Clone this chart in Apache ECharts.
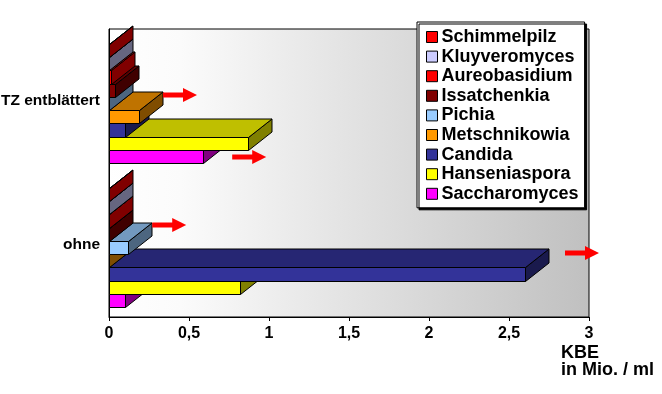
<!DOCTYPE html>
<html><head><meta charset="utf-8">
<script src="https://cdn.jsdelivr.net/npm/echarts@6/dist/echarts.min.js"></script>
<style>html,body{margin:0;padding:0;background:#fff}#c{width:662px;height:394px}</style>
</head><body><div id="c"></div>
<script>
// ---- data ----
var categories = ['ohne', 'TZ entblättert'];
var seriesNames = ['Saccharomyces','Hanseniaspora','Candida','Metschnikowia','Pichia','Issatchenkia','Aureobasidium','Kluyveromyces','Schimmelpilz'];
var saccharomyces = [0.10, 0.59];
var hanseniaspora = [0.82, 0.87];
var candida       = [2.60, 0.10];
var metschnikowia = [0.00, 0.19];
var pichia        = [0.12, 0.00];
var issatchenkia  = [0.00, 0.04];
var aureobasidium = [0.00, 0.01];
var kluyveromyces = [0.00, 0.00];
var schimmelpilz  = [0.00, 0.00];
var xTickLabels = ['0','0,5','1','1,5','2','2,5','3'];
var legendOrder = ['Schimmelpilz','Kluyveromyces','Aureobasidium','Issatchenkia','Pichia','Metschnikowia','Candida','Hanseniaspora','Saccharomyces'];
var seriesValues = [saccharomyces, hanseniaspora, candida, metschnikowia, pichia, issatchenkia, aureobasidium, kluyveromyces, schimmelpilz];
// arrow annotations: tail value on x axis, category index
var arrowValues = [0.3375, 0.77, 0.27, 2.85];
var arrowCats = [1, 1, 0, 0];

// ---- style ----
var colors = ['#FF00FF','#FFFF00','#333399','#FF9900','#99CCFF','#800000','#FF0000','#CCCCFF','#FF0000'];
var arrowDY = [-6, 56, -20, 8];
var DX = 23.5, DY = 18.5;
var FONT = '"Liberation Sans", Arial, sans-serif';

function shade(hex, f) {
  var r = parseInt(hex.substr(1,2),16), g = parseInt(hex.substr(3,2),16), b = parseInt(hex.substr(5,2),16);
  return 'rgb(' + Math.round(r*f) + ',' + Math.round(g*f) + ',' + Math.round(b*f) + ')';
}

function makeRender(sIdx, color) {
  return function (params, api) {
    var v = api.value(0), cat = api.value(1);
    var p0 = api.coord([0, cat]);
    var p1 = api.coord([v, cat]);
    var bandH = api.size([0, 1])[1];
    var groupH = bandH * 0.833;
    var slotH = groupH / 9;
    var frontBottom = p0[1] + groupH / 2 + 2.5;
    var yB = Math.round(frontBottom - sIdx * slotH) + 0.5;
    var yT = Math.round(frontBottom - (sIdx + 1) * slotH) + 0.5;
    var x0 = Math.round(p0[0]) + 0.5, x1 = Math.round(p1[0]) + 0.5;
    var ls = {stroke: '#000', lineWidth: 1};
    return {
      type: 'group',
      children: [
        {type: 'polygon', shape: {points: [[x1, yT], [x1, yB], [x1 + DX, yB - DY], [x1 + DX, yT - DY]]},
          style: Object.assign({fill: shade(color, 0.5)}, ls)},
        {type: 'polygon', shape: {points: [[x0, yT], [x1, yT], [x1 + DX, yT - DY], [x0 + DX, yT - DY]]},
          style: Object.assign({fill: shade(color, 0.75)}, ls)},
        {type: 'rect', shape: {x: x0, y: yT, width: x1 - x0, height: yB - yT},
          style: Object.assign({fill: color}, ls)}
      ]
    };
  };
}

var series = seriesNames.map(function (name, i) {
  return {
    type: 'custom',
    name: name,
    renderItem: makeRender(i, colors[i]),
    encode: {x: 0, y: 1},
    itemStyle: {color: colors[i]},
    data: seriesValues[i].map(function (v, c) { return [v, c]; }),
    clip: false
  };
});

var chart = echarts.init(document.getElementById('c'), null, {renderer: 'canvas'});
chart.setOption({
  animation: false,
  backgroundColor: '#fff',
  grid: {
    left: 109, right: 73, top: 29, bottom: 77, show: true,
    containLabel: false, outerBoundsMode: 'none',
    borderColor: '#000', borderWidth: 1,
    backgroundColor: new echarts.graphic.LinearGradient(0, 0, 1, 0, [
      {offset: 0, color: '#ffffff'}, {offset: 0.15, color: '#fbfbfb'}, {offset: 1, color: '#c0c0c0'}])
  },
  xAxis: {
    type: 'value', min: 0, max: 3, interval: 0.5,
    axisLine: {show: true, lineStyle: {color: '#000', width: 1}},
    axisTick: {show: true, length: 4, lineStyle: {color: '#000'}},
    splitLine: {show: false},
    axisLabel: {
      color: '#000', fontFamily: FONT, fontWeight: 'bold', fontSize: 16, margin: 9,
      formatter: function (v) { return xTickLabels[Math.round(v * 2)]; }
    }
  },
  yAxis: {
    type: 'category', data: categories,
    axisLine: {show: true, lineStyle: {color: '#000', width: 1}},
    axisTick: {show: false},
    axisLabel: {color: '#000', fontFamily: FONT, fontWeight: 'bold', fontSize: 15.5, margin: 9}
  },
  legend: {
    orient: 'vertical', left: 417, top: 22,
    data: legendOrder,
    icon: 'rect', itemWidth: 11, itemHeight: 11, itemGap: 1.6,
    padding: [6, 6, 5, 9],
    backgroundColor: '#fff', borderColor: '#000', borderWidth: 1,
    shadowColor: '#000', shadowBlur: 0, shadowOffsetX: 2, shadowOffsetY: 2,
    itemStyle: {borderColor: '#000', borderWidth: 1},
    selectedMode: false,
    textStyle: {color: '#000', fontFamily: FONT, fontWeight: 'bold', fontSize: 18, lineHeight: 18, padding: [0, 0, 0, -1]}
  },
  series: series
});

// axis title and arrow annotations
var graphics = [{
  type: 'text', left: 561, top: 344,
  style: {text: 'KBE\nin Mio. / ml', fill: '#000', font: 'bold 18px ' + FONT, lineHeight: 17}
}];
arrowValues.forEach(function (v, i) {
  var p = chart.convertToPixel({gridIndex: 0}, [v, arrowCats[i]]);
  var x = p[0], y = p[1] + arrowDY[i];
  graphics.push({
    type: 'polygon',
    shape: {points: [[x, y - 2.5], [x + 20, y - 2.5], [x + 20, y - 7], [x + 34, y], [x + 20, y + 7], [x + 20, y + 2.5], [x, y + 2.5]]},
    style: {fill: '#FF0000'}, z: 10
  });
});
chart.setOption({graphic: graphics});
</script>
</body></html>
